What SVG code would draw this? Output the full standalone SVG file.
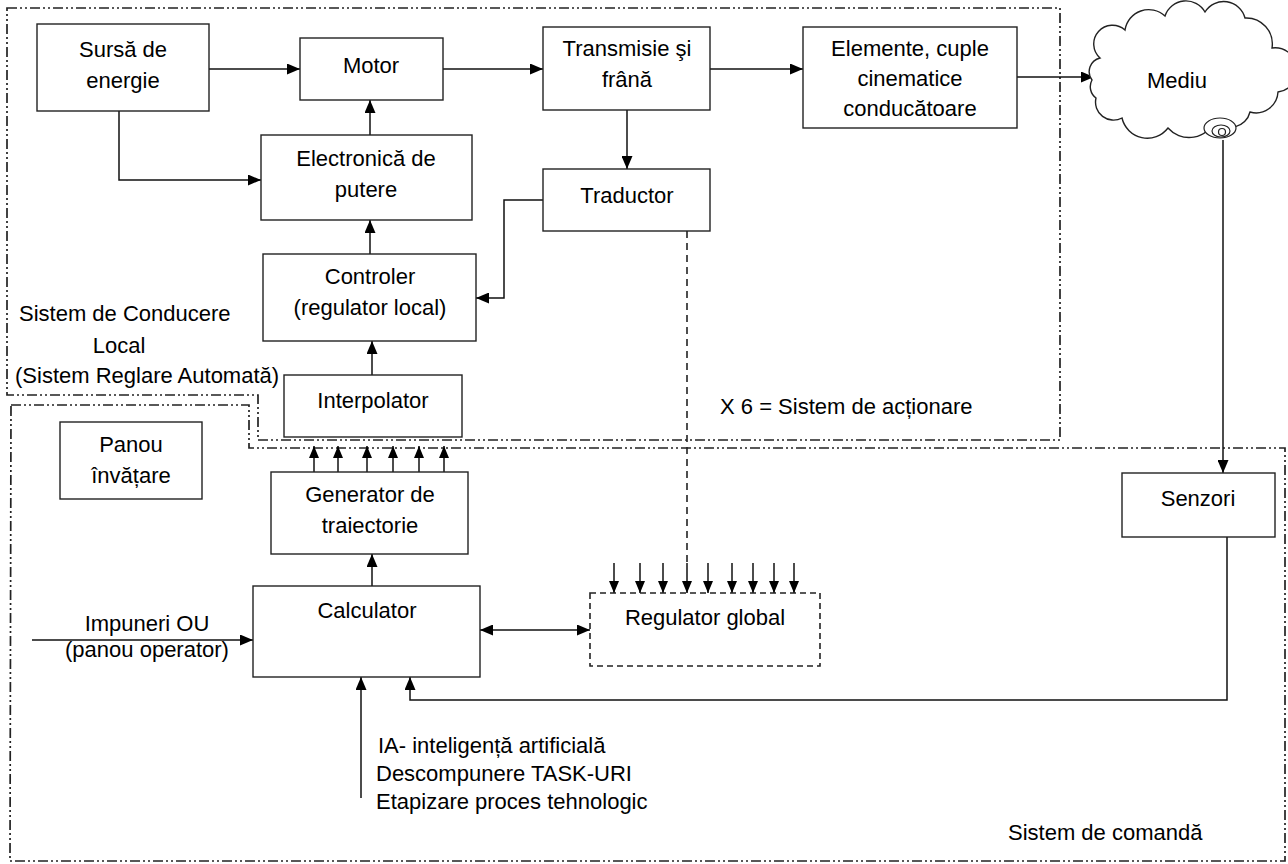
<svg xmlns="http://www.w3.org/2000/svg" width="1288" height="864" viewBox="0 0 1288 864">
<style>
.box{fill:#fff;stroke:#222;stroke-width:1.4}
.dbox{fill:#fff;stroke:#222;stroke-width:1.6;stroke-dasharray:6 4}
.frame{fill:none;stroke:#222;stroke-width:1.7;stroke-dasharray:10 3 2 3 2 3}
.t{font-family:"Liberation Sans",Arial,sans-serif;font-size:22px;fill:#000;text-anchor:middle}
.tl{font-family:"Liberation Sans",Arial,sans-serif;font-size:22px;fill:#000}
.c{fill:none;stroke:#111;stroke-width:1.5}
.cd{fill:none;stroke:#222;stroke-width:1.6;stroke-dasharray:7 5}
</style>
<defs>
<marker id="ah" viewBox="0 0 13 11" refX="13" refY="5.5" markerWidth="13" markerHeight="11" markerUnits="userSpaceOnUse" orient="auto-start-reverse"><path d="M0,0 L13,5.5 L0,11 z" fill="#000"/></marker>
<marker id="as" viewBox="0 0 12 10" refX="12" refY="5" markerWidth="12" markerHeight="10" markerUnits="userSpaceOnUse" orient="auto"><path d="M0,0 L12,5 L0,10 z" fill="#000"/></marker>
</defs>
<rect width="1288" height="864" fill="#fff"/>

<g id="frames">
<path class="frame" d="M7,8 H1060 V440 H258 V395 H7 Z"/>
<path class="frame" d="M11,405 H249 V448 H1285 V861 H10 Z"/>
</g>

<g id="connectors">
<path class="c" d="M209,69 H300" marker-end="url(#ah)"/>
<path class="c" d="M119,111 V180 H261" marker-end="url(#ah)"/>
<path class="c" d="M370,135 V100" marker-end="url(#ah)"/>
<path class="c" d="M370,254 V220" marker-end="url(#ah)"/>
<path class="c" d="M372,375 V341" marker-end="url(#ah)"/>
<path class="c" d="M443,69 H543" marker-end="url(#ah)"/>
<path class="c" d="M710,69 H803" marker-end="url(#ah)"/>
<path class="c" d="M627,110 V169" marker-end="url(#ah)"/>
<path class="c" d="M543,200 H504 V298 H476" marker-end="url(#ah)"/>
<path class="cd" d="M687,231 V563"/>
<path class="c" d="M1017,77 H1094" marker-end="url(#ah)"/>
<path class="c" d="M1223,140 V473" marker-end="url(#ah)"/>
<path class="c" d="M314,472 V446" marker-end="url(#as)"/>
<path class="c" d="M338,472 V446" marker-end="url(#as)"/>
<path class="c" d="M367,472 V446" marker-end="url(#as)"/>
<path class="c" d="M393,472 V446" marker-end="url(#as)"/>
<path class="c" d="M419,472 V446" marker-end="url(#as)"/>
<path class="c" d="M444,472 V446" marker-end="url(#as)"/>
<path class="c" d="M614,563 V593" marker-end="url(#as)"/>
<path class="c" d="M640,563 V593" marker-end="url(#as)"/>
<path class="c" d="M663,563 V593" marker-end="url(#as)"/>
<path class="c" d="M687,563 V593" marker-end="url(#as)"/>
<path class="c" d="M708,563 V593" marker-end="url(#as)"/>
<path class="c" d="M732,563 V593" marker-end="url(#as)"/>
<path class="c" d="M753,563 V593" marker-end="url(#as)"/>
<path class="c" d="M774,563 V593" marker-end="url(#as)"/>
<path class="c" d="M794,563 V593" marker-end="url(#as)"/>
<path class="c" d="M372,586 V554" marker-end="url(#ah)"/>
<path class="c" d="M480,630 H590" marker-start="url(#ah)" marker-end="url(#ah)"/>
<path class="c" d="M32,640 H253" marker-end="url(#ah)"/>
<path class="c" d="M361,798 V677" marker-end="url(#ah)"/>
<path class="c" d="M1227,537 V700 H410 V677" marker-end="url(#ah)"/>
</g>

<g id="sursa"><rect class="box" x="37" y="24" width="172" height="87"/><text class="t" x="123" y="57">Sursă de</text><text class="t" x="123" y="88">energie</text></g>
<g id="motor"><rect class="box" x="300" y="38" width="143" height="62"/><text class="t" x="371" y="73">Motor</text></g>
<g id="transmisie"><rect class="box" x="543" y="27" width="167" height="83"/><text class="t" x="627" y="56">Transmisie şi</text><text class="t" x="627" y="87">frână</text></g>
<g id="elemente"><rect class="box" x="803" y="27" width="214" height="101"/><text class="t" x="910" y="56">Elemente, cuple</text><text class="t" x="910" y="86">cinematice</text><text class="t" x="910" y="116">conducătoare</text></g>
<g id="mediu">
<path class="box" d="M1100,58 A16,16 0 0 1 1125,30 A24,24 0 0 1 1165,16 A22,22 0 0 1 1205,12 A22,22 0 0 1 1245,18 A26,26 0 0 1 1272,48 A22,22 0 0 1 1278,92 A22,22 0 0 1 1250,112 A20,20 0 0 1 1215,120 A28,28 0 0 1 1168,128 A26,26 0 0 1 1122,118 A18,18 0 0 1 1096,98 A14,14 0 0 1 1092,80 A14,14 0 0 1 1100,58 Z"/>
<text class="t" x="1177" y="88">Mediu</text>
<ellipse cx="1220" cy="128" rx="16" ry="10" fill="#fff" stroke="#222" stroke-width="1.2"/>
<ellipse cx="1221" cy="131" rx="9" ry="6" fill="none" stroke="#222" stroke-width="1.2"/>
<circle cx="1222" cy="132" r="3.5" fill="none" stroke="#222" stroke-width="1.2"/>
</g>
<g id="electronica"><rect class="box" x="261" y="135" width="211" height="85"/><text class="t" x="366" y="166">Electronică de</text><text class="t" x="366" y="197">putere</text></g>
<g id="traductor"><rect class="box" x="543" y="169" width="167" height="62"/><text class="t" x="627" y="203">Traductor</text></g>
<g id="controler"><rect class="box" x="263" y="254" width="213" height="87"/><text class="t" x="370" y="284">Controler</text><text class="t" x="370" y="315">(regulator local)</text></g>
<g id="interpolator"><rect class="box" x="284" y="375" width="178" height="62"/><text class="t" x="373" y="408">Interpolator</text></g>
<g id="panou"><rect class="box" x="60" y="422" width="142" height="77"/><text class="t" x="131" y="452">Panou</text><text class="t" x="131" y="483">învățare</text></g>
<g id="generator"><rect class="box" x="271" y="472" width="197" height="82"/><text class="t" x="370" y="502">Generator de</text><text class="t" x="370" y="533">traiectorie</text></g>
<g id="calculator"><rect class="box" x="253" y="586" width="227" height="91"/><text class="t" x="367" y="618">Calculator</text></g>
<g id="regulator"><rect class="dbox" x="590" y="593" width="230" height="73"/><text class="t" x="705" y="625">Regulator global</text></g>
<g id="senzori"><rect class="box" x="1122" y="473" width="153" height="64"/><text class="t" x="1198" y="506">Senzori</text></g>

<g id="labels">
<text class="tl" x="19" y="321">Sistem de Conducere</text>
<text class="t" x="119" y="353">Local</text>
<text class="tl" x="15" y="383">(Sistem Reglare Automată)</text>
<text class="tl" x="720" y="414">X  6 = Sistem de acționare</text>
<text class="t" x="147" y="631">Impuneri OU</text>
<text class="t" x="147" y="657">(panou operator)</text>
<text class="tl" x="378" y="753">IA- inteligență artificială</text>
<text class="tl" x="376" y="781">Descompunere TASK-URI</text>
<text class="tl" x="376" y="809">Etapizare proces tehnologic</text>
<text class="tl" x="1008" y="840">Sistem de comandă</text>
</g>
</svg>
